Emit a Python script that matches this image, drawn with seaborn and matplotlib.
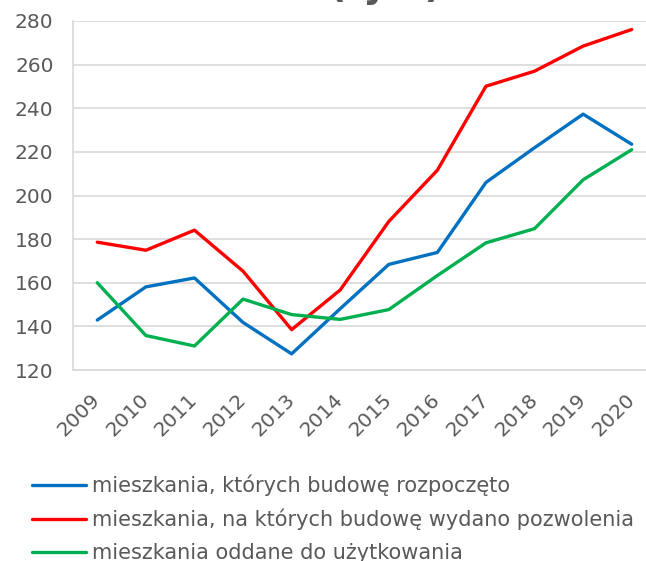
import matplotlib
matplotlib.use("Agg")
import matplotlib.pyplot as plt
import seaborn as sns
import pandas as pd

years = ["2009", "2010", "2011", "2012", "2013", "2014", "2015", "2016", "2017", "2018", "2019", "2020"]
started = [142.9, 158.1, 162.2, 141.8, 127.4, 148.1, 168.4, 173.9, 206.0, 221.9, 237.3, 223.5]
permits = [178.6, 174.9, 184.1, 165.3, 138.5, 156.7, 188.1, 211.6, 250.1, 257.0, 268.5, 276.1]
completed = [160.0, 135.8, 131.0, 152.5, 145.4, 143.2, 147.7, 163.3, 178.3, 184.8, 207.2, 221.0]

series_names = [
    "mieszkania, których budowę rozpoczęto",
    "mieszkania, na których budowę wydano pozwolenia",
    "mieszkania oddane do użytkowania",
]
colors = ["#0070C0", "#FF0000", "#00B050"]
title = "(tys.)"

rows = []
for name, vals in zip(series_names, [started, permits, completed]):
    for i, (y, v) in enumerate(zip(years, vals)):
        rows.append({"idx": i, "year": y, "value": v, "series": name})
df = pd.DataFrame(rows)

sns.set_theme(style="white")
plt.rcParams["font.family"] = ["DejaVu Sans"]
text_color = "#595959"
grid_color = "#D9D9D9"

fig = plt.figure(figsize=(6.46, 5.61), dpi=100)
ax = fig.add_axes([73 / 646, 1 - 370 / 561, (656 - 73) / 646, (370 - 21) / 561])

lw = 2.4
sns.lineplot(data=df, x="idx", y="value", hue="series", hue_order=series_names,
             palette=colors, linewidth=lw, ax=ax, legend=True, sort=False)

ax.set_xlim(-0.5, 11.5)
ax.set_ylim(120, 280)
ax.set_yticks(range(120, 281, 20))
ax.set_xticks(range(len(years)))
ax.set_xticklabels(years, rotation=45, ha="right", va="center", rotation_mode="anchor")
ax.tick_params(axis="both", length=0, labelsize=14.5, labelcolor=text_color)
ax.tick_params(axis="x", pad=19)
ax.tick_params(axis="y", pad=14)
ax.yaxis.grid(True, color=grid_color, linewidth=1.2)
ax.set_axisbelow(True)
ax.set_xlabel("")
ax.set_ylabel("")
for s in ["top", "right"]:
    ax.spines[s].set_visible(False)
for s in ["left", "bottom"]:
    ax.spines[s].set_color(grid_color)
    ax.spines[s].set_linewidth(1.2)

handles, labels = ax.get_legend_handles_labels()
ax.get_legend().remove()
leg = fig.legend(handles, labels, loc="upper left", bbox_to_anchor=(32 / 646, 1 - 475 / 561),
                 frameon=False, fontsize=15.0, handlelength=2.6, handletextpad=0.3,
                 labelspacing=0.6, borderpad=0, borderaxespad=0)
for t in leg.get_texts():
    t.set_color(text_color)
for h in leg.legend_handles:
    h.set_linewidth(lw)

fig.text(386 / 646, 1 + 3 / 561, title, ha="center", va="baseline",
         fontsize=27, fontweight="bold", color=text_color)

fig.savefig("out.png", dpi=100)
